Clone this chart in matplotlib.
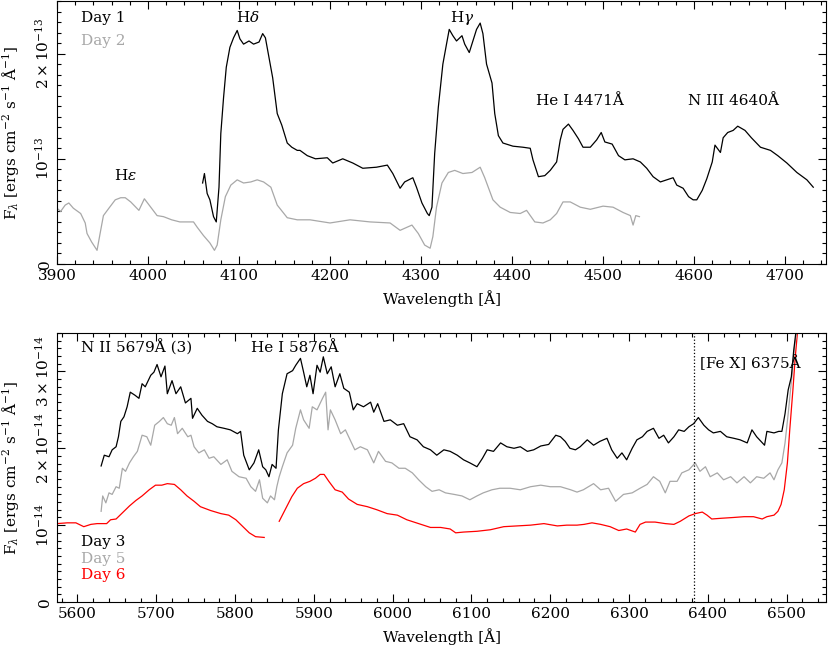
import numpy as np
import matplotlib
matplotlib.use("Agg")
import matplotlib.pyplot as plt
from matplotlib.ticker import MultipleLocator, FuncFormatter

nan = np.nan

# top panel, flux in units of 1e-13
day1_wave = [4060, 4062, 4065, 4068, 4072, 4075, 4078, 4080, 4083, 4086,
             4090, 4094, 4098, 4101, 4105, 4111, 4116, 4122, 4126, 4129,
             4133, 4137, 4142, 4147, 4153, 4158, 4164, 4167, 4175, 4184,
             4197, 4203, 4214, 4225, 4236, 4251, 4263, 4269, 4277, 4282,
             4291, 4295, 4301, 4307, 4309, 4312, 4315, 4319, 4324, 4328,
             4331, 4335, 4339, 4345, 4348, 4353, 4357, 4361, 4365, 4368,
             4372, 4378, 4381, 4385, 4390, 4401, 4412, 4420, 4423, 4429,
             4436, 4442, 4449, 4453, 4456, 4462, 4467, 4473, 4478, 4486,
             4493, 4498, 4502, 4510, 4517, 4524, 4533, 4541, 4548, 4555,
             4563, 4570, 4577, 4581, 4588, 4594, 4599, 4603, 4609, 4614,
             4620, 4623, 4629, 4632, 4637, 4643, 4648, 4656, 4663, 4673,
             4684, 4692, 4702, 4713, 4724, 4731]
day1_flux = [0.77, 0.86, 0.67, 0.61, 0.45, 0.40, 0.73, 1.24, 1.58, 1.87,
             2.06, 2.15, 2.22, 2.14, 2.09, 2.12, 2.09, 2.11, 2.19, 2.15,
             1.96, 1.77, 1.43, 1.32, 1.15, 1.11, 1.08, 1.08, 1.03, 1.00,
             1.01, 0.96, 1.00, 0.96, 0.91, 0.92, 0.94, 0.86, 0.72, 0.78,
             0.82, 0.73, 0.58, 0.48, 0.46, 0.54, 1.05, 1.49, 1.90, 2.09,
             2.23, 2.17, 2.12, 2.17, 2.09, 2.01, 2.12, 2.23, 2.29, 2.19,
             1.90, 1.72, 1.43, 1.22, 1.15, 1.12, 1.11, 1.10, 0.99, 0.83,
             0.84, 0.89, 0.97, 1.18, 1.28, 1.33, 1.27, 1.19, 1.11, 1.11,
             1.18, 1.25, 1.16, 1.14, 1.03, 0.99, 1.00, 0.97, 0.91, 0.83,
             0.78, 0.80, 0.82, 0.75, 0.72, 0.64, 0.61, 0.61, 0.70, 0.81,
             0.97, 1.13, 1.06, 1.20, 1.25, 1.27, 1.31, 1.27, 1.20, 1.11,
             1.08, 1.03, 0.96, 0.87, 0.80, 0.73]

day2_wave = [3900, 3904, 3909, 3913, 3918, 3926, 3931, 3933, 3938, 3944,
             3948, 3951, 3957, 3964, 3970, 3975, 3981, 3990, 3996, 4003,
             4010, 4017, 4026, 4035, 4045, 4050, 4054, 4061, 4068, 4073,
             4076, 4080, 4085, 4091, 4098, 4105, 4113, 4120, 4127, 4135,
             4142, 4153, 4164, 4178, 4200, 4222, 4244, 4266, 4277, 4290,
             4297, 4304, 4310, 4313, 4317, 4323, 4330, 4337, 4346, 4356,
             4365, 4370, 4379, 4387, 4398, 4409, 4416, 4425, 4434, 4442,
             4449, 4456, 4464, 4475, 4486, 4500, 4511, 4522, 4530, 4533,
             4536, 4540]
day2_flux = [0.53, 0.50, 0.56, 0.58, 0.53, 0.48, 0.39, 0.29, 0.21, 0.13,
             0.32, 0.46, 0.53, 0.61, 0.63, 0.63, 0.59, 0.51, 0.62, 0.54,
             0.46, 0.45, 0.42, 0.40, 0.40, 0.40, 0.35, 0.27, 0.20, 0.13,
             0.18, 0.42, 0.64, 0.75, 0.80, 0.77, 0.78, 0.80, 0.78, 0.73,
             0.56, 0.44, 0.42, 0.42, 0.39, 0.42, 0.40, 0.39, 0.32, 0.37,
             0.29, 0.18, 0.15, 0.26, 0.54, 0.77, 0.87, 0.89, 0.86, 0.87,
             0.92, 0.82, 0.61, 0.54, 0.49, 0.48, 0.51, 0.40, 0.39, 0.42,
             0.48, 0.59, 0.59, 0.54, 0.52, 0.55, 0.54, 0.49, 0.46, 0.37,
             0.46, 0.45]

# bottom panel, flux in units of 1e-14
day3_wave = [5630, 5634, 5640, 5644, 5649, 5652, 5655, 5659, 5663, 5667,
             5673, 5678, 5682, 5686, 5693, 5697, 5701, 5706, 5711, 5714,
             5720, 5725, 5731, 5737, 5744, 5746, 5752, 5758, 5765, 5771,
             5777, 5786, 5794, 5803, 5807, 5811, 5818, 5824, 5830, 5835,
             5839, 5843, 5847, 5852, 5855, 5860, 5866, 5873, 5877, 5883,
             5887, 5891, 5895, 5899, 5904, 5908, 5912, 5917, 5922, 5927,
             5933, 5938, 5945, 5950, 5955, 5963, 5972, 5976, 5981, 5989,
             5997, 6006, 6014, 6022, 6031, 6039, 6048, 6056, 6065, 6073,
             6082, 6090, 6098, 6107, 6114, 6120, 6128, 6137, 6145, 6154,
             6162, 6171, 6179, 6188, 6198, 6207, 6213, 6219, 6225, 6232,
             6238, 6247, 6255, 6263, 6272, 6278, 6285, 6291, 6297, 6304,
             6310, 6317, 6323, 6331, 6338, 6344, 6350, 6357, 6363, 6370,
             6376, 6382, 6388, 6395, 6401, 6407, 6416, 6424, 6433, 6441,
             6450, 6456, 6462, 6472, 6475, 6484, 6490, 6494, 6498, 6502,
             6506, 6509, 6512, 6516]
day3_flux = [1.77, 1.91, 1.89, 1.98, 2.02, 2.15, 2.35, 2.41, 2.54, 2.73,
             2.69, 2.65, 2.84, 2.80, 2.95, 2.99, 3.09, 2.93, 3.07, 2.71,
             2.88, 2.71, 2.80, 2.59, 2.65, 2.39, 2.52, 2.43, 2.35, 2.32,
             2.28, 2.26, 2.24, 2.19, 2.22, 1.91, 1.72, 1.81, 1.98, 1.76,
             1.72, 1.63, 1.79, 1.74, 2.24, 2.71, 2.97, 3.01, 3.08, 3.17,
             2.99, 2.80, 2.95, 2.71, 3.08, 2.99, 3.19, 2.97, 3.06, 2.80,
             2.97, 2.78, 2.73, 2.50, 2.58, 2.54, 2.60, 2.47, 2.58, 2.35,
             2.37, 2.30, 2.32, 2.15, 2.11, 2.02, 1.98, 1.91, 1.98, 1.96,
             1.91, 1.85, 1.81, 1.76, 1.87, 1.98, 1.96, 2.07, 2.02, 2.00,
             2.02, 1.96, 1.98, 2.03, 2.05, 2.17, 2.15, 2.09, 2.00, 1.98,
             2.02, 2.11, 2.04, 2.09, 2.13, 1.98, 1.87, 1.94, 1.85, 2.00,
             2.11, 2.15, 2.22, 2.26, 2.13, 2.17, 2.07, 2.15, 2.24, 2.22,
             2.28, 2.32, 2.40, 2.30, 2.24, 2.20, 2.22, 2.15, 2.13, 2.11,
             2.07, 2.24, 2.15, 2.04, 2.22, 2.20, 2.22, 2.22, 2.45, 2.76,
             2.93, 3.27, 3.53, 4.20]

day5_wave = [5630, 5632, 5636, 5640, 5644, 5649, 5653, 5657, 5661, 5666,
             5671, 5676, 5682, 5688, 5693, 5698, 5704, 5709, 5714, 5719,
             5723, 5727, 5733, 5740, 5744, 5748, 5754, 5761, 5767, 5773,
             5782, 5790, 5796, 5805, 5814, 5820, 5826, 5831, 5835, 5841,
             5845, 5850, 5853, 5856, 5860, 5866, 5873, 5877, 5883, 5887,
             5894, 5898, 5904, 5911, 5915, 5918, 5921, 5927, 5934, 5940,
             5946, 5952, 5959, 5968, 5976, 5982, 5991, 5999, 6008, 6016,
             6025, 6033, 6042, 6050, 6059, 6067, 6078, 6088, 6098, 6107,
             6115, 6126, 6136, 6149, 6162, 6175, 6188, 6200, 6213, 6226,
             6234, 6242, 6255, 6264, 6274, 6283, 6293, 6304, 6314, 6323,
             6331, 6339, 6346, 6352, 6361, 6367, 6376, 6384, 6390, 6397,
             6403, 6412, 6420, 6429, 6437, 6446, 6454, 6462, 6471, 6479,
             6484, 6489, 6494, 6498, 6502, 6507, 6510, 6513, 6517]
day5_flux = [1.18, 1.38, 1.29, 1.42, 1.40, 1.50, 1.48, 1.74, 1.70, 1.81,
             1.89, 1.96, 2.17, 2.15, 2.04, 2.30, 2.35, 2.40, 2.32, 2.30,
             2.40, 2.19, 2.26, 2.15, 2.17, 2.02, 1.94, 1.98, 1.87, 1.89,
             1.79, 1.85, 1.70, 1.63, 1.61, 1.50, 1.44, 1.59, 1.35, 1.29,
             1.38, 1.33, 1.50, 1.63, 1.76, 1.94, 2.04, 2.26, 2.50, 2.37,
             2.26, 2.54, 2.50, 2.65, 2.73, 2.24, 2.50, 2.37, 2.19, 2.24,
             2.11, 1.98, 2.02, 1.98, 1.81, 1.96, 1.83, 1.81, 1.74, 1.74,
             1.68, 1.59, 1.50, 1.44, 1.46, 1.42, 1.40, 1.38, 1.33, 1.38,
             1.42, 1.46, 1.48, 1.48, 1.46, 1.50, 1.52, 1.50, 1.50, 1.46,
             1.43, 1.46, 1.54, 1.46, 1.48, 1.31, 1.40, 1.42, 1.48, 1.53,
             1.63, 1.57, 1.42, 1.57, 1.57, 1.68, 1.72, 1.81, 1.70, 1.76,
             1.63, 1.68, 1.59, 1.63, 1.55, 1.63, 1.55, 1.63, 1.61, 1.68,
             1.59, 1.72, 1.81, 2.07, 2.45, 2.97, 3.32, 3.53, 4.20]

day6_wave = [5574, 5587, 5598, 5608, 5617, 5625, 5637, 5642, 5649, 5657,
             5666, 5674, 5682, 5691, 5699, 5707, 5714, 5723, 5731, 5739,
             5748, 5756, 5769, 5782, 5792, 5801, 5809, 5818, 5826, 5837,
             5846, 5856, 5866, 5872, 5879, 5887, 5895, 5902, 5908, 5913,
             5919, 5927, 5936, 5944, 5955, 5968, 5980, 5993, 6006, 6018,
             6033, 6048, 6061, 6073, 6080, 6090, 6107, 6124, 6141, 6158,
             6175, 6192, 6209, 6221, 6234, 6243, 6253, 6264, 6276, 6287,
             6297, 6308, 6314, 6321, 6333, 6346, 6357, 6365, 6376, 6384,
             6393, 6399, 6405, 6418, 6433, 6446, 6458, 6469, 6475, 6484,
             6489, 6493, 6497, 6501, 6504, 6508, 6511, 6514, 6518]
day6_flux = [1.02, 1.03, 1.03, 0.98, 1.01, 1.02, 1.02, 1.07, 1.08, 1.16,
             1.25, 1.32, 1.38, 1.46, 1.52, 1.52, 1.54, 1.53, 1.46, 1.38,
             1.31, 1.24, 1.19, 1.15, 1.13, 1.07, 0.99, 0.90, 0.85, 0.84,
             nan, 1.05, 1.25, 1.37, 1.48, 1.54, 1.57, 1.61, 1.66, 1.66,
             1.57, 1.46, 1.43, 1.34, 1.27, 1.24, 1.20, 1.15, 1.13, 1.07,
             1.02, 0.97, 0.97, 0.95, 0.90, 0.91, 0.92, 0.94, 0.98, 0.99,
             1.00, 1.02, 0.99, 1.00, 1.00, 1.01, 1.03, 1.01, 0.98, 0.93,
             0.95, 0.91, 1.01, 1.04, 1.04, 1.02, 1.01, 1.05, 1.12, 1.15,
             1.17, 1.13, 1.08, 1.09, 1.10, 1.11, 1.11, 1.08, 1.11, 1.13,
             1.18, 1.27, 1.46, 1.81, 2.24, 2.76, 3.19, 3.53, 4.20]

GRAY = "#a8a8a8"
FONT = "DejaVu Serif"
FS = 11

plt.rcParams["font.family"] = FONT
plt.rcParams["mathtext.fontset"] = "dejavuserif"


def power_label(exp):
    def fmt(v, pos):
        n = int(round(v))
        if n == 0:
            return "0"
        if n == 1:
            return r"$10^{-%d}$" % exp
        return r"$%d\times10^{-%d}$" % (n, exp)
    return FuncFormatter(fmt)


def style_axes(ax, xmajor, xminor, ymajor, yminor, exp):
    ax.xaxis.set_major_locator(MultipleLocator(xmajor))
    ax.xaxis.set_minor_locator(MultipleLocator(xminor))
    ax.yaxis.set_major_locator(MultipleLocator(ymajor))
    ax.yaxis.set_minor_locator(MultipleLocator(yminor))
    ax.yaxis.set_major_formatter(power_label(exp))
    ax.tick_params(which="both", direction="in", top=True, right=True,
                   labelsize=FS, width=0.8)
    ax.tick_params(which="major", length=6)
    ax.tick_params(which="minor", length=3)
    for lab in ax.get_yticklabels():
        lab.set_rotation(90)
        lab.set_va("center")
    for sp in ax.spines.values():
        sp.set_linewidth(0.8)
    ax.set_xlabel("Wavelength [Å]", fontsize=FS, labelpad=5)
    ax.set_ylabel(r"F$_\lambda$ [ergs cm$^{-2}$ s$^{-1}$ Å$^{-1}$]",
                  fontsize=FS)
    ax.yaxis.set_label_coords(-0.047, 0.5)


fig = plt.figure(figsize=(8.3, 6.47), dpi=100)

# top panel
top = fig.add_axes([57 / 830, 1 - 264 / 647, 769 / 830, 263 / 647])
top.plot(day2_wave, day2_flux, color=GRAY, lw=0.9)
top.plot(day1_wave, day1_flux, color="k", lw=0.9)
top.set_xlim(3900, 4745)
top.set_ylim(0, 2.5)
style_axes(top, 100, 20, 1, 0.1, 13)

top.text(3926, 2.34, "Day 1", color="k", fontsize=FS, va="center")
top.text(3926, 2.12, "Day 2", color=GRAY, fontsize=FS, va="center")
top.text(4110, 2.34, r"H$\delta$", fontsize=FS, ha="center", va="center")
top.text(4345, 2.34, r"H$\gamma$", fontsize=FS, ha="center", va="center")
top.text(3975, 0.84, r"H$\epsilon$", fontsize=FS, ha="center", va="center")
top.text(4475, 1.55, "He I 4471Å", fontsize=FS, ha="center", va="center")
top.text(4643, 1.55, "N III 4640Å", fontsize=FS, ha="center", va="center")

# bottom panel
bot = fig.add_axes([57 / 830, 1 - 602 / 647, 769 / 830, 269 / 647])
bot.plot(day6_wave, day6_flux, color="red", lw=0.9)
bot.plot(day5_wave, day5_flux, color=GRAY, lw=0.9)
bot.plot(day3_wave, day3_flux, color="k", lw=0.9)
bot.axvline(6383, color="k", ls=":", lw=0.9)
bot.set_xlim(5574, 6550)
bot.set_ylim(0, 3.5)
style_axes(bot, 100, 20, 1, 0.1, 14)

bot.text(5605, 3.31, "N II 5679Å (3)", fontsize=FS, va="center")
bot.text(5820, 3.31, "He I 5876Å", fontsize=FS, va="center")
bot.text(6390, 3.10, "[Fe X] 6375Å", fontsize=FS, va="center")
bot.text(5605, 0.78, "Day 3", color="k", fontsize=FS, va="center")
bot.text(5605, 0.56, "Day 5", color=GRAY, fontsize=FS, va="center")
bot.text(5605, 0.35, "Day 6", color="red", fontsize=FS, va="center")

fig.savefig("out.png", dpi=100)
